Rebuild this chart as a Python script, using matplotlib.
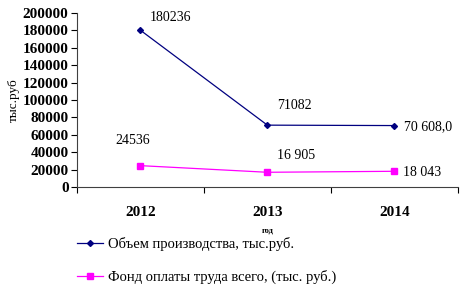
import matplotlib.pyplot as plt
from matplotlib.ticker import MultipleLocator

years = ["2012", "2013", "2014"]
volume = [180236, 71082, 70608.0]
payroll = [24536, 16905, 18043]
volume_labels = ["180236", "71082", "70 608,0"]
payroll_labels = ["24536", "16 905", "18 043"]

plt.rcParams['font.family'] = ['Liberation Serif', 'DejaVu Serif']

fig = plt.figure(figsize=(4.63, 2.89), dpi=100)
ax = fig.add_axes([0.166, 0.353, 0.823, 0.602])

x = list(range(len(years)))
ax.plot(x, volume, color='#000080', marker='D', markersize=3, linewidth=0.9,
        label="Объем производства, тыс.руб.")
ax.plot(x, payroll, color='#FF00FF', marker='s', markersize=4.5, linewidth=0.9,
        label="Фонд оплаты труда всего, (тыс. руб.)")

# data labels
offsets_v = [(7, 9, 'left'), (7, 14, 'left'), (7, -1, 'left')]
offsets_p = [(-18, 18, 'left'), (7, 12, 'left'), (6, -1, 'left')]
for i in x:
    dx, dy, ha = offsets_v[i]
    ax.annotate(volume_labels[i], (i, volume[i]), xytext=(dx, dy),
                textcoords='offset points', ha=ha, va='center', fontsize=10)
    dx, dy, ha = offsets_p[i]
    ax.annotate(payroll_labels[i], (i, payroll[i]), xytext=(dx, dy),
                textcoords='offset points', ha=ha, va='center', fontsize=10)

ax.set_xlim(-0.5, 2.5)
ax.set_ylim(0, 200000)
ax.yaxis.set_major_locator(MultipleLocator(20000))
ax.set_xticks([-0.5, 0.5, 1.5, 2.5])
ax.set_xticklabels([])
ax.set_xticks(x, minor=True)
ax.set_xticklabels(years, minor=True, fontsize=11, fontweight='bold')
ax.tick_params(axis='x', which='minor', length=0, pad=14)
ax.tick_params(axis='x', which='major', length=4, direction='out')
ax.tick_params(axis='y', length=4, direction='out', labelsize=11, pad=2)
for lbl in ax.get_yticklabels():
    lbl.set_fontweight('bold')

for s in ['top', 'right']:
    ax.spines[s].set_visible(False)
ax.spines['left'].set_color('#404040')
ax.spines['bottom'].set_color('#404040')

ax.set_ylabel("тыс.руб", fontsize=9.5, labelpad=2)
ax.set_xlabel("год", fontsize=6, fontweight='bold', labelpad=5)

ax.legend(loc='upper left', bbox_to_anchor=(-0.015, -0.255), frameon=False,
          fontsize=10.5, handlelength=1.8, labelspacing=1.3, handletextpad=0.3,
          borderaxespad=0)

fig.savefig("out.png", dpi=100)
